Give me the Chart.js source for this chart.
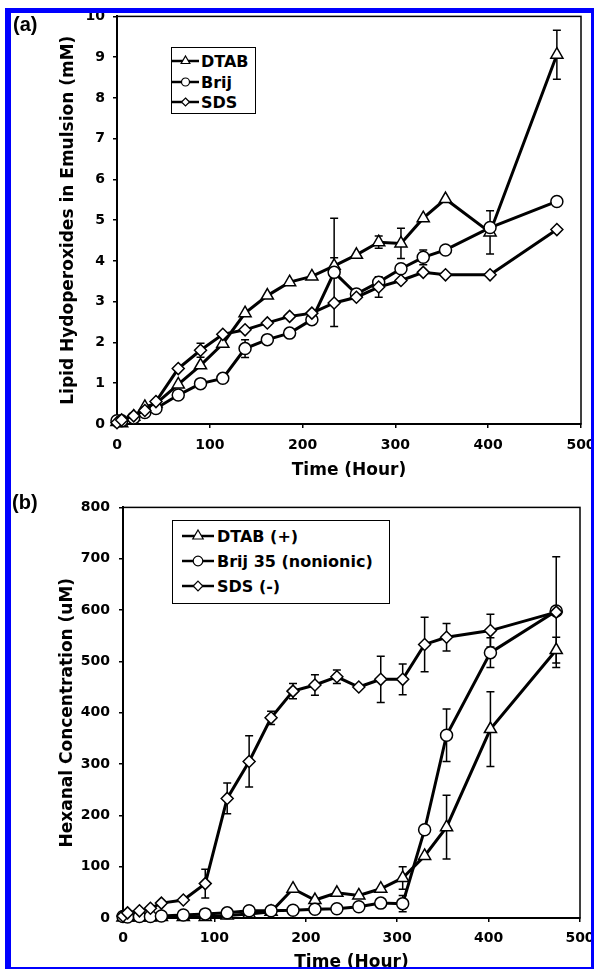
<!DOCTYPE html>
<html>
<head>
<meta charset="utf-8">
<script src="https://cdn.jsdelivr.net/npm/chart.js@4.4.0/dist/chart.umd.min.js"></script>
<style>
    html, body {
        margin: 0;
        padding: 0;
        width: 594px;
        height: 969px;
        overflow: hidden;
        background: #fff;
    }
    canvas {
        position: absolute;
        left: 0;
    }
    .blue {
        position: absolute;
        background: #0000ff;
        z-index: 10;
    }
    .panel_lbl {
        position: absolute;
        font: bold 20px "Liberation Sans", Arial, sans-serif;
        line-height: 20px;
        color: #000;
    }
    .legend {
        position: absolute;
        border: 1.5px solid #000;
        background: #fff;
        font: bold 16px "DejaVu Sans", sans-serif;
        color: #000;
        box-sizing: border-box;
        z-index: 5;
    }
    .legend .row {
        position: absolute;
        left: 0;
        white-space: nowrap;
        line-height: 16px;
    }
    .legend svg {
        position: absolute;
        top: -2px;
    }
    .legend span {
        position: absolute;
        top: 0;
    }
</style>
</head>
<body>

<canvas id="chartA" width="610" height="490" style="top:0px"></canvas>
<canvas id="chartB" width="610" height="500" style="top:490px"></canvas>

<div class="panel_lbl" style="left:13px; top:14px">(a)</div>
<div class="panel_lbl" style="left:12px; top:492px">(b)</div>

<div class="legend" id="legendA" style="left:171px; top:47px; width:85px; height:67px"></div>
<div class="legend" id="legendB" style="left:172px; top:520px; width:218px; height:84px"></div>

<div class="blue" style="left:5px; top:8px; width:589px; height:5px"></div>
<div class="blue" style="left:5px; top:8px; width:6px; height:961px"></div>
<div class="blue" style="left:591px; top:8px; width:3px; height:961px"></div>
<div class="blue" style="left:5px; top:967px; width:589px; height:2px"></div>

<script>
// cas vzorcenja (ure) - skupen za oba grafa
const hours = [0, 5, 18, 30, 42, 66, 90, 114, 138, 162, 186, 210, 234, 258, 282, 306, 330, 354, 402, 474];

// (a) lipidni hidroperoksidi (mM)
const dtabA = [0.05, 0.02, 0.18, 0.42, 0.5, 0.97, 1.44, 1.97, 2.72, 3.15, 3.48, 3.62, 3.88, 4.15, 4.46, 4.43, 5.05, 5.52, 4.7, 9.06];
const brijA = [0.08, 0.08, 0.15, 0.28, 0.38, 0.71, 0.99, 1.12, 1.85, 2.07, 2.23, 2.56, 3.72, 3.19, 3.48, 3.81, 4.09, 4.27, 4.82, 5.46];
const sdsA = [0.03, 0.1, 0.2, 0.33, 0.55, 1.36, 1.81, 2.2, 2.31, 2.48, 2.64, 2.72, 2.97, 3.11, 3.36, 3.52, 3.72, 3.66, 3.66, 4.77];
const dtabErrA = [0, 0, 0, 0, 0, 0, 0, 0, 0, 0, 0, 0, 0.2, 0, 0.15, 0.37, 0, 0, 0.53, 0.6];
const brijErrA = [0, 0, 0, 0, 0, 0, 0, 0, 0.22, 0, 0, 0, 1.33, 0, 0, 0, 0.18, 0, 0, 0];
const sdsErrA = [0, 0, 0, 0, 0, 0, 0.17, 0, 0, 0, 0, 0, 0, 0, 0.25, 0, 0, 0, 0, 0];

// (b) heksanal (uM)
const dtabB = [1, 1, 1, 1, 2, 2, 2, 5, 8, 12, 57, 35, 49, 44, 57, 78, 121, 177, 368, 522];
const brijB = [3, 2, 3, 3, 4, 6, 8, 10, 14, 14, 15, 17, 18, 22, 29, 28, 172, 356, 517, 598];
const sdsB = [4, 10, 14, 19, 29, 35, 67, 233, 305, 390, 442, 454, 470, 450, 465, 465, 533, 547, 560, 596];
const dtabErrB = [0, 0, 0, 0, 0, 0, 0, 0, 0, 0, 0, 0, 0, 0, 0, 22, 0, 62, 73, 25];
const brijErrB = [0, 0, 0, 0, 0, 0, 0, 0, 0, 0, 0, 0, 0, 0, 0, 16, 0, 51, 29, 0];
const sdsErrB = [0, 0, 0, 0, 0, 0, 28, 30, 50, 13, 15, 20, 13, 0, 45, 30, 53, 27, 32, 108];

const labelsA = ["DTAB", "Brij", "SDS"];
const labelsB = ["DTAB (+)", "Brij 35 (nonionic)", "SDS (-)"];
const markers = ["triangle", "circle", "rectRot"];

Chart.defaults.font.family = "'DejaVu Sans', sans-serif";
Chart.defaults.font.weight = "bold";
Chart.defaults.color = "#000";

// napake - navpicne crte s kapico
const errorBars = {
    id: "errorBars",
    beforeDatasetsDraw(chart) {
        const { ctx, scales } = chart;
        ctx.save();
        ctx.strokeStyle = "#000";
        ctx.lineWidth = 1.5;
        chart.data.datasets.forEach((ds) => {
            ds.errors.forEach((e, i) => {
                if (!e) return;
                const px = scales.x.getPixelForValue(ds.data[i].x);
                const top = scales.y.getPixelForValue(ds.data[i].y + e);
                const bot = scales.y.getPixelForValue(ds.data[i].y - e);
                ctx.beginPath();
                ctx.moveTo(px, top);
                ctx.lineTo(px, bot);
                ctx.moveTo(px - 4, top);
                ctx.lineTo(px + 4, top);
                ctx.moveTo(px - 4, bot);
                ctx.lineTo(px + 4, bot);
                ctx.stroke();
            });
        });
        ctx.restore();
    },
};

// okvir okoli podrocja grafa
const frame = {
    id: "frame",
    beforeDatasetsDraw(chart) {
        const { ctx, chartArea: a } = chart;
        ctx.save();
        ctx.strokeStyle = "#000";
        ctx.lineWidth = 1.5;
        ctx.strokeRect(a.left, a.top, a.right - a.left, a.bottom - a.top);
        ctx.restore();
    },
};

function makeSet(label, values, errors, marker, order) {
    return {
        label: label,
        data: hours.map((h, i) => ({ x: h, y: values[i] })),
        errors: errors,
        borderColor: "#000",
        borderWidth: 3,
        pointStyle: marker,
        pointRadius: marker === "triangle" ? 7 : 6,
        pointBackgroundColor: "#fff",
        pointBorderColor: "#000",
        pointBorderWidth: 1.5,
        tension: 0,
        clip: false,
        order: order,
    };
}

function makeChart(id, sets, yMax, yStep, yTitle, cfg) {
    new Chart(document.getElementById(id), {
        type: "line",
        data: { datasets: sets },
        options: {
            responsive: false,
            animation: false,
            layout: { padding: { top: cfg.top, right: cfg.right, left: 0, bottom: 0 } },
            plugins: { legend: { display: false }, tooltip: { enabled: false } },
            scales: {
                x: {
                    type: "linear",
                    min: 0,
                    max: 500,
                    ticks: { stepSize: 100, padding: cfg.xPad, font: { size: 14, weight: "bold" } },
                    grid: { drawOnChartArea: false, tickLength: 4, color: "#000", lineWidth: 1.5 },
                    border: { color: "#000", width: 2 },
                    title: { display: true, text: "Time (Hour)", font: { size: 17, weight: "bold" }, padding: { top: 0, bottom: cfg.xTitlePad } },
                    afterFit: (s) => { s.height = cfg.xHeight; },
                },
                y: {
                    min: 0,
                    max: yMax,
                    ticks: { stepSize: yStep, padding: cfg.yPad, font: { size: 14, weight: "bold" } },
                    grid: { drawOnChartArea: false, tickLength: 4, color: "#000", lineWidth: 1.5 },
                    border: { color: "#000", width: 2 },
                    title: { display: true, text: yTitle, font: { size: 17, weight: "bold" }, padding: { top: cfg.yTitlePad, bottom: 0 } },
                    afterFit: (s) => { s.width = cfg.yWidth; },
                },
            },
        },
        plugins: [frame, errorBars],
    });
}

makeChart(
    "chartA",
    [
        makeSet(labelsA[0], dtabA, dtabErrA, markers[0], 3),
        makeSet(labelsA[1], brijA, brijErrA, markers[1], 2),
        makeSet(labelsA[2], sdsA, sdsErrA, markers[2], 1),
    ],
    10, 1, "Lipid Hydoperoxides in Emulsion (mM)",
    { top: 15, right: 29, xPad: 9, xTitlePad: 9, xHeight: 66, yPad: 8, yTitlePad: 58, yWidth: 117 }
);

makeChart(
    "chartB",
    [
        makeSet(labelsB[0], dtabB, dtabErrB, markers[0], 3),
        makeSet(labelsB[1], brijB, brijErrB, markers[1], 2),
        makeSet(labelsB[2], sdsB, sdsErrB, markers[2], 1),
    ],
    800, 100, "Hexanal Concentration (uM)",
    { top: 12, right: 30, xPad: 8, xTitlePad: 17, xHeight: 72, yPad: 9, yTitlePad: 57, yWidth: 123 }
);

// legenda
function symbol(marker, w, r) {
    const c = w / 2, cy = 9;
    let shape;
    if (marker === "triangle") {
        shape = `<polygon points="${c},${cy - r} ${c + r * 0.87},${cy + r * 0.5} ${c - r * 0.87},${cy + r * 0.5}"/>`;
    } else if (marker === "circle") {
        shape = `<circle cx="${c}" cy="${cy}" r="${r * 0.8}"/>`;
    } else {
        shape = `<polygon points="${c},${cy - r * 0.8} ${c + r * 0.8},${cy} ${c},${cy + r * 0.8} ${c - r * 0.8},${cy}"/>`;
    }
    return `<svg width="${w}" height="18"><line x1="0" y1="${cy}" x2="${w}" y2="${cy}" stroke="#000" stroke-width="2.5"/>` +
        `<g fill="#fff" stroke="#000" stroke-width="1.2">${shape}</g></svg>`;
}

function fillLegend(id, labels, rowTops, symLeft, symW, textLeft, r) {
    const box = document.getElementById(id);
    labels.forEach((txt, i) => {
        const row = document.createElement("div");
        row.className = "row";
        row.style.top = rowTops[i] + "px";
        row.innerHTML = `<svg style="left:${symLeft}px"></svg>`;
        row.innerHTML = symbol(markers[i], symW, r).replace("<svg ", `<svg style="left:${symLeft}px" `) +
            `<span style="left:${textLeft}px">${txt}</span>`;
        box.appendChild(row);
    });
}

fillLegend("legendA", labelsA, [6, 26.5, 47], 0, 27, 29, 5);
fillLegend("legendB", labelsB, [7.5, 32.5, 58], 9, 32, 44, 6);
</script>
</body>
</html>
